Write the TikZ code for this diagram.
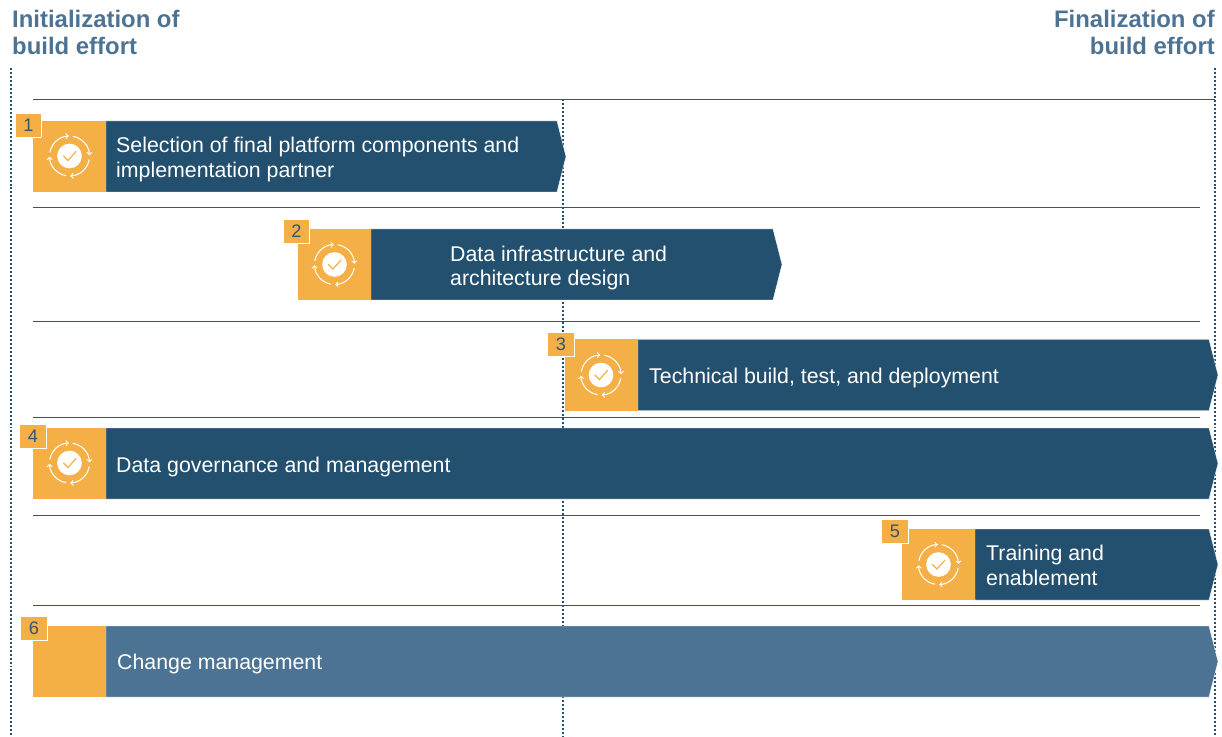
\documentclass[tikz,border=0pt]{standalone}
\usepackage{fontspec}
\setmainfont{Liberation Sans}
\definecolor{barblue}{HTML}{245070}
\definecolor{barlight}{HTML}{4D7394}
\definecolor{baramber}{HTML}{F4AF47}
\definecolor{ruleblue}{HTML}{33566F}
\tikzset{
    phaselabel/.style={font=\fontsize{20.4}{23}\selectfont\bfseries,text=barlight,inner sep=0pt},
    barlabel/.style={font=\fontsize{18.2}{21.3}\selectfont,text=white,anchor=west,align=left,inner sep=0pt},
    badge/.style={fill=baramber,draw=white,line width=0.8pt,minimum width=22.5pt,minimum height=20.5pt,inner sep=0pt,
        font=\fontsize{15.5}{18}\selectfont,text=ruleblue},
    timeline/.style={barblue,line width=1.5pt,dash pattern=on 1.7pt off 1.7pt},
    rowrule/.style={ruleblue,line width=0.75pt},
    pics/cycleicon/.style={code={
        \fill[white] (0,0) circle (0.37cm);
        \draw[baramber,line width=1pt,line cap=round] (-6,0) -- (-1.5,4.5) -- (6.5,-4.5);
        \foreach \ang in {0,90,180,270}
            \draw[->,white,line width=0.9pt] (\ang+80:0.6cm) arc[start angle=\ang+80,end angle=\ang+2,radius=0.6cm];
    }},
}
\begin{document}
\begin{tikzpicture}[x=0.03cm,y=-0.03cm]
    \useasboundingbox (0,0) rectangle (1222,737);
    % Draw the timelines
    \draw[timeline] (11,68) -- (11,737);
    \draw[timeline] (563,99) -- (563,737);
    \draw[timeline] (1215,68) -- (1215,737);

    % Draw the row rules
    \draw[rowrule] (33,99) -- (1215,99);
    \foreach \rowy in {207,321,417,515,605}
        \draw[rowrule] (33,\rowy) -- (1200,\rowy);

    % Draw the bars
    \foreach \xa/\ya/\xb/\col in {33/121/557/barblue,298/229/773/barblue,565/339.5/1209/barblue,
        33/428/1209/barblue,902/529/1209/barblue,33/626/1209/barlight} {
        \fill[\col,draw=white,line width=0.3pt] (\xa+73,\ya) -- (\xb,\ya) -- (\xb+9,\ya+35.5) -- (\xb,\ya+71) -- (\xa+73,\ya+71) -- cycle;
        \fill[baramber] (\xa,\ya) rectangle (\xa+73,\ya+71);
    }

    % Draw the icons
    \foreach \xa/\ya in {69.5/156,334.5/264.5,601/375,69.5/463,938.5/564.5}
        \pic at (\xa,\ya) {cycleicon};

    % Draw the badges
    \node[badge] (badge1) at (28.5,125.5) {1};
    \node[badge] (badge2) at (296.5,231.5) {2};
    \node[badge] (badge3) at (561,344.5) {3};
    \node[badge] (badge4) at (33,436.5) {4};
    \node[badge] (badge5) at (895,531.5) {5};
    \node[badge] (badge6) at (34,628.5) {6};

    % Draw the labels
    \node[barlabel] (select) at (116,159.5) {Selection of final platform components and\\implementation partner};
    \node[barlabel] (infra) at (450,268) {Data infrastructure and\\architecture design};
    \node[barlabel] (build) at (649,377.5) {Technical build, test, and deployment};
    \node[barlabel] (govern) at (116,466.5) {Data governance and management};
    \node[barlabel] (train) at (986,565) {Training and\\enablement};
    \node[barlabel] (change) at (117,663.5) {Change management};

    \node[phaselabel,anchor=west,align=left] (start) at (12,32.5) {Initialization of\\build effort};
    \node[phaselabel,anchor=east,align=right] (finish) at (1215,32.5) {Finalization of\\build effort};
\end{tikzpicture}
\end{document}
